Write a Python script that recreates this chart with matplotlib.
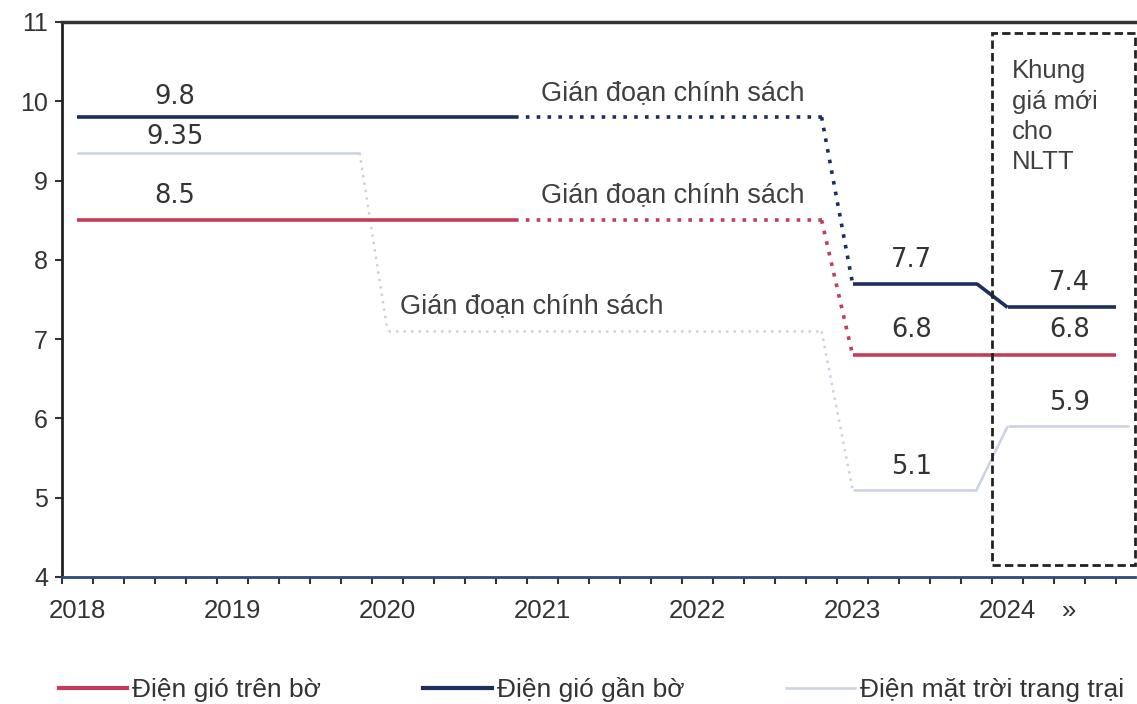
import numpy as np
import matplotlib
matplotlib.use("Agg")
import matplotlib.pyplot as plt
from matplotlib.lines import Line2D
from matplotlib.patches import Rectangle

# --- Dữ liệu giá điện (US cent/kWh) ---
years = [2018, 2019, 2020, 2021, 2022, 2023, 2024]

# điện gió: chung các mốc thời gian
x_gio = [2018.0, 2020.82, 2022.8, 2023.0, 2023.8, 2024.0, 2024.7]
gio_gan_bo = [9.8, 9.8, 9.8, 7.7, 7.7, 7.4, 7.4]
gio_tren_bo = [8.5, 8.5, 8.5, 6.8, 6.8, 6.8, 6.8]
kieu_gio = ["-", ":", ":", "-", "-", "-"]  # kiểu nét từng đoạn

# điện mặt trời trang trại
x_mt = [2018.0, 2019.82, 2020.0, 2022.8, 2023.0, 2023.8, 2024.0, 2024.78]
mat_troi = [9.35, 9.35, 7.1, 7.1, 5.1, 5.1, 5.9, 5.9]
kieu_mt = ["-", ":", ":", ":", "-", "-", "-"]

ten = ["Điện gió trên bờ", "Điện gió gần bờ", "Điện mặt trời trang trại"]
mau_do, mau_xanh, mau_xam = "#C23D58", "#1C2F5C", "#CBD3E0"

fig = plt.figure(figsize=(11.37, 7.04), dpi=100)
ax = fig.add_axes([0.0545, 0.1804, 0.9435, 0.7884])

def ve_bac(x, y, kieu, mau, lw):
    for i in range(len(x) - 1):
        if kieu[i] == "-":
            ax.plot(x[i:i + 2], y[i:i + 2], color=mau, lw=lw,
                    solid_capstyle="butt", zorder=3)
        else:
            ax.plot(x[i:i + 2], y[i:i + 2], color=mau, lw=lw,
                    linestyle=(0, (1, 2)), dash_capstyle="butt", zorder=3)

ve_bac(x_mt, mat_troi, kieu_mt, mau_xam, 1.8)
ve_bac(x_gio, gio_tren_bo, kieu_gio, mau_do, 2.6)
ve_bac(x_gio, gio_gan_bo, kieu_gio, mau_xanh, 2.6)

# nhãn giá trị
so_kw = dict(fontsize=18.5, color="#333333", ha="center", va="center",
             family="DejaVu Sans")
ax.text(2018.63, gio_gan_bo[0] + 0.25, f"{gio_gan_bo[0]}", **so_kw)
ax.text(2018.63, mat_troi[0] + 0.2, f"{mat_troi[0]}", **so_kw)
ax.text(2018.63, gio_tren_bo[0] + 0.31, f"{gio_tren_bo[0]}", **so_kw)
ax.text(2023.38, gio_gan_bo[3] + 0.3, f"{gio_gan_bo[3]}", **so_kw)
ax.text(2024.40, gio_gan_bo[5] + 0.31, f"{gio_gan_bo[5]}", **so_kw)
ax.text(2023.38, gio_tren_bo[3] + 0.32, f"{gio_tren_bo[3]}", **so_kw)
ax.text(2024.40, gio_tren_bo[5] + 0.32, f"{gio_tren_bo[5]}", **so_kw)
ax.text(2024.40, mat_troi[6] + 0.3, f"{mat_troi[6]}", **so_kw)
ax.text(2023.38, mat_troi[4] + 0.29, f"{mat_troi[4]}", **so_kw)

chu_kw = dict(fontsize=19.5, color="#404040", ha="center", va="center",
              family="Liberation Sans")
ax.text(2021.84, 10.10, "Gián đoạn chính sách", **chu_kw)
ax.text(2021.84, 8.82, "Gián đoạn chính sách", **chu_kw)
ax.text(2020.93, 7.41, "Gián đoạn chính sách", **chu_kw)

# khung giá mới
ax.add_patch(Rectangle((2023.9, 4.15), 0.92, 6.71, fill=False,
                       edgecolor="#222222", lw=2.0, linestyle=(0, (3, 1.5)),
                       clip_on=False, zorder=4))
ax.text(2024.03, 10.53, "Khung\ngiá mới\ncho\nNLTT", fontsize=18.5,
        color="#404040", ha="left", va="top", linespacing=1.33,
        family="Liberation Sans")

# trục
ax.set_xlim(2017.9, 2024.82)
ax.set_ylim(4, 11)
ax.set_yticks(range(4, 12))
ax.set_xticks(years + [2024.4])
ax.set_xticklabels([str(y) for y in years] + ["»"])
ax.set_xticks(np.arange(2017.9, 2024.85, 0.2), minor=True)
ax.tick_params(axis="x", which="major", length=0, pad=16, labelsize=18.5,
               labelcolor="#333333")
ax.tick_params(axis="x", which="minor", length=5, width=1.5, color="#333333")
ax.tick_params(axis="y", length=5, width=1.5, color="#333333", pad=5,
               labelsize=18, labelcolor="#333333")
for t in ax.get_xticklabels() + ax.get_yticklabels():
    t.set_family("Liberation Sans")

ax.spines["right"].set_visible(False)
ax.spines["left"].set_linewidth(2)
ax.spines["left"].set_color("#222222")
ax.spines["top"].set_linewidth(2.5)
ax.spines["top"].set_color("#333333")
ax.spines["bottom"].set_linewidth(2)
ax.spines["bottom"].set_color("#2B4A7E")

# chú thích
handles = [Line2D([], [], color=mau_do, lw=3),
           Line2D([], [], color=mau_xanh, lw=3),
           Line2D([], [], color=mau_xam, lw=1.8)]
leg = fig.legend(handles, ten, loc="center", bbox_to_anchor=(0.52, 0.02),
                 ncol=3, frameon=False, handlelength=2.6, handletextpad=0.2,
                 columnspacing=3.85, prop={"family": "Liberation Sans", "size": 19})
for t in leg.get_texts():
    t.set_color("#333333")

fig.savefig("out.png", dpi=100)
